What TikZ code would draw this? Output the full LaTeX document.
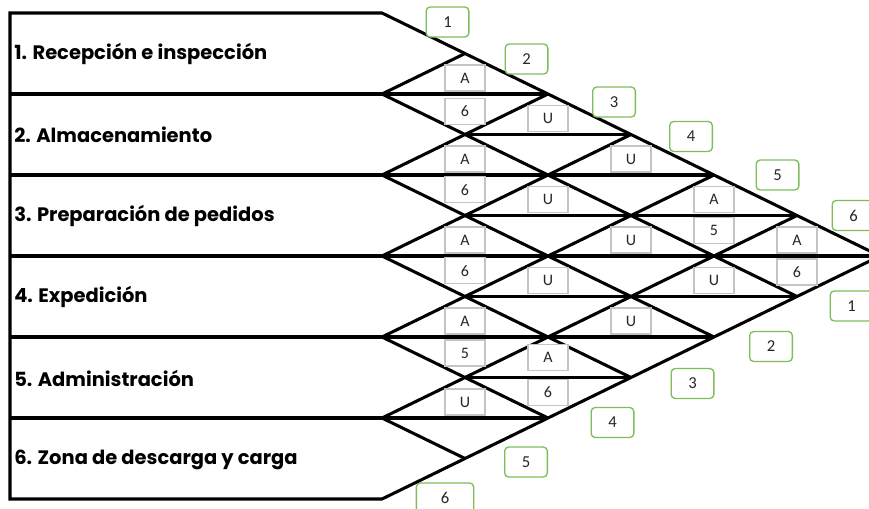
\documentclass[tikz,border=0pt]{standalone}
\usepackage{fontspec}
\setmainfont{Carlito}
\newfontfamily\gothic{Poppins}
\usetikzlibrary{positioning,calc}
\definecolor{leaf}{HTML}{7DBE5A}
\definecolor{bk25}{HTML}{C4C4C4}
\definecolor{bk90}{HTML}{262626}
\tikzset{
  chartline/.style={
    draw=black, line width=2.3pt, line join=miter
  },
  rowlabel/.style={
    anchor=west, inner sep=0pt,
    font=\gothic\bfseries\fontsize{14.6}{16}\selectfont
  },
  relbox/.style={
    rectangle, draw=bk25, fill=white, line width=0.9pt,
    minimum width=30pt, minimum height=19.5pt, inner sep=0pt,
    font=\fontsize{12}{14}\selectfont, text=bk90
  },
  numtag/.style={
    rectangle, rounded corners=3pt, draw=leaf, fill=white, line width=1pt,
    minimum width=32pt, minimum height=22.5pt, inner sep=0pt,
    font=\fontsize{12.5}{14}\selectfont, text=bk90
  },
}

\begin{document}
\begin{tikzpicture}[x=0.75pt, y=-0.75pt]
  \useasboundingbox (0,0) rectangle (869,508);
  \clip (0,0) rectangle (869,508);

  % frame points
  \coordinate (tl) at (10,13);
  \coordinate (bl) at (10,499);
  \coordinate (tip) at (880,256);
  \coordinate (l0) at (382,13);
  \coordinate (l1) at (382,94);
  \coordinate (l2) at (382,175);
  \coordinate (l3) at (382,256);
  \coordinate (l4) at (382,337);
  \coordinate (l5) at (382,418);
  \coordinate (l6) at (382,499);

  % outline and horizontal lines
  \draw[chartline] (tl) -- (l0) -- (tip) -- (l6) -- (bl) -- cycle;
  \draw[chartline] (tl |- l1) -- (548,94);
  \draw[chartline] (465,134.5) -- (631,134.5);
  \draw[chartline] (tl |- l2) -- (714,175);
  \draw[chartline] (465,215.5) -- (797,215.5);
  \draw[chartline] (tl |- l3) -- (tip);
  \draw[chartline] (465,296.5) -- (797,296.5);
  \draw[chartline] (tl |- l4) -- (714,337);
  \draw[chartline] (465,377.5) -- (631,377.5);
  \draw[chartline] (tl |- l5) -- (548,418);

  % diagonals
  \draw[chartline] (465,53.5) -- (l1) -- (797,296.5);
  \draw[chartline] (548,94) -- (l2) -- (714,337);
  \draw[chartline] (631,134.5) -- (l3) -- (631,377.5);
  \draw[chartline] (714,175) -- (l4) -- (548,418);
  \draw[chartline] (797,215.5) -- (l5) -- (465,458.5);

  % departments
  \node[rowlabel] (row1) at (14,54) {1. Recepción e inspección};
  \node[rowlabel] (row2) at (14,135) {2. Almacenamiento};
  \node[rowlabel] (row3) at (14,216) {3. Preparación de pedidos};
  \node[rowlabel] (row4) at (14,297) {4. Expedición};
  \node[rowlabel] (row5) at (14,378) {5. Administración};
  \node[rowlabel] (row6) at (14,460) {6. Zona de descarga y carga};

  % diamond centres
  \coordinate (d12) at (465,94);
  \coordinate (d13) at (548,134.5);
  \coordinate (d14) at (631,175);
  \coordinate (d15) at (714,215.5);
  \coordinate (d16) at (797,256);
  \coordinate (d23) at (465,175);
  \coordinate (d24) at (548,215.5);
  \coordinate (d25) at (631,256);
  \coordinate (d26) at (714,296.5);
  \coordinate (d34) at (465,256);
  \coordinate (d35) at (548,296.5);
  \coordinate (d36) at (631,337);
  \coordinate (d45) at (465,337);
  \coordinate (d46) at (548,377.5);
  \coordinate (d56) at (465,418);

  % closeness and reason
  \node[relbox] at ([yshift=12pt]d12) (c12) {A};
  \node[relbox] at ([yshift=-13pt]d12) (w12) {6};
  \node[relbox] at ([yshift=12pt]d13) (c13) {U};
  \node[relbox] at ([yshift=12pt]d14) (c14) {U};
  \node[relbox] at ([yshift=12pt]d15) (c15) {A};
  \node[relbox] at ([yshift=-11pt]d15) (w15) {5};
  \node[relbox] at ([yshift=12pt]d16) (c16) {A};
  \node[relbox] at ([yshift=-12pt]d16) (w16) {6};
  \node[relbox] at ([yshift=12pt]d23) (c23) {A};
  \node[relbox] at ([yshift=-11pt]d23) (w23) {6};
  \node[relbox] at ([yshift=12pt]d24) (c24) {U};
  \node[relbox] at ([yshift=12pt]d25) (c25) {U};
  \node[relbox] at ([yshift=12pt]d26) (c26) {U};
  \node[relbox] at ([yshift=12pt]d34) (c34) {A};
  \node[relbox] at ([yshift=-11pt]d34) (w34) {6};
  \node[relbox] at ([yshift=12pt]d35) (c35) {U};
  \node[relbox] at ([yshift=12pt]d36) (c36) {U};
  \node[relbox] at ([yshift=12pt]d45) (c45) {A};
  \node[relbox] at ([yshift=-12pt]d45) (w45) {5};
  \node[relbox] at ([yshift=15pt]d46) (c46) {A};
  \node[relbox] at ([yshift=-11pt]d46) (w46) {6};
  \node[relbox] at ([yshift=12pt]d56) (c56) {U};

  % department numbers
  \node[numtag] at (447.5,22) (t1) {1};
  \node[numtag] at (526.5,59) (t2) {2};
  \node[numtag] at (614,102) (t3) {3};
  \node[numtag] at (691,136.5) (t4) {4};
  \node[numtag] at (777.5,175) (t5) {5};
  \node[numtag] at (853.5,215.5) (t6) {6};
  \node[numtag] at (851.5,306) (b1) {1};
  \node[numtag] at (771,346.5) (b2) {2};
  \node[numtag] at (692.5,383.5) (b3) {3};
  \node[numtag] at (612.5,422.5) (b4) {4};
  \node[numtag] at (526,462) (b5) {5};
  \node[numtag, minimum width=43pt] at (445,498) (b6) {6};
\end{tikzpicture}
\end{document}
